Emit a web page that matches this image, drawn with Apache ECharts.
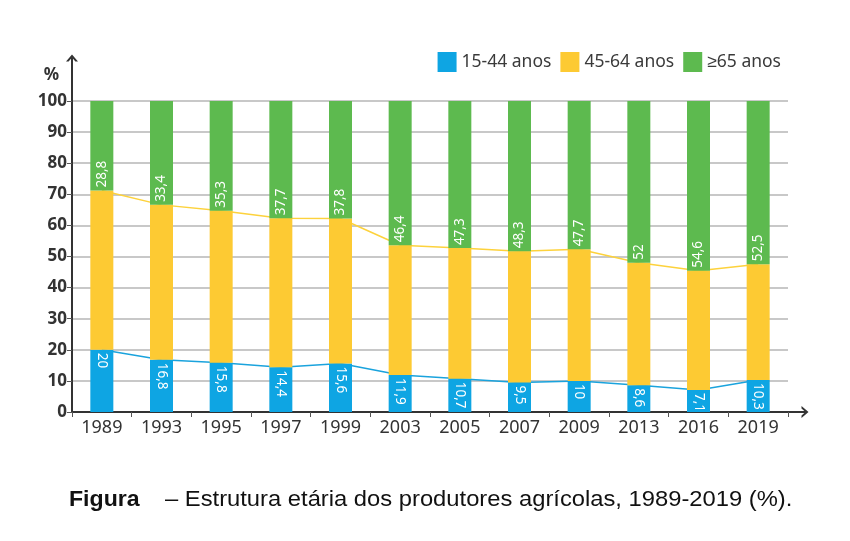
<!DOCTYPE html>
<html>
<head>
<meta charset="utf-8">
<script src="https://cdn.jsdelivr.net/npm/echarts@6/dist/echarts.min.js"></script>
<style>
  html, body { margin: 0; padding: 0; background: #fff; }
  #chart { width: 850px; height: 541px; }
</style>
</head>
<body>
<div id="chart"></div>
<script>
// anos do censo
const anos = ['1989', '1993', '1995', '1997', '1999', '2003', '2005', '2007', '2009', '2013', '2016', '2019'];
// faixas etárias (%)
const jovens = [20, 16.8, 15.8, 14.4, 15.6, 11.9, 10.7, 9.5, 10, 8.6, 7.1, 10.3];
const adultos = [51.2, 49.8, 48.9, 47.9, 46.6, 41.7, 42.0, 42.2, 42.3, 39.4, 38.3, 37.2];
const idosos = [28.8, 33.4, 35.3, 37.7, 37.8, 46.4, 47.3, 48.3, 47.7, 52, 54.6, 52.5];
const nomes = ['15-44 anos', '45-64 anos', '≥65 anos'];

const azul = '#0ea5e3', amarelo = '#fdca33', verde = '#5dba4f';
const fonte = "'Noto Sans', sans-serif";

// seta aberta (chevron) para a ponta dos eixos
const seta = 'path://M0,7 L6,0 L12,7 L9.4,7 L6,3 L2.6,7 Z';

const virgula = p => String(p.value).replace('.', ',');

const myChart = echarts.init(document.getElementById('chart'));
myChart.setOption({
  backgroundColor: '#fff',
  animation: false,
  legend: {
    data: nomes,
    right: 64,
    top: 47,
    itemWidth: 19,
    itemHeight: 20,
    itemGap: 9,
    icon: 'rect',
    textStyle: { fontFamily: fonte, fontSize: 17.5, color: '#3a3a3a' }
  },
  grid: [
    { left: 72, right: 62, top: 101, bottom: 129 },
    // só para as linhas dos eixos com seta
    { left: 72, right: 45, top: 58, bottom: 129 }
  ],
  xAxis: [
    {
      type: 'category',
      gridIndex: 0,
      data: anos,
      axisLine: { show: false },
      axisTick: { show: true, length: 5, lineStyle: { color: '#555' } },
      axisLabel: { fontFamily: fonte, fontSize: 18, color: '#333', margin: 7 }
    },
    {
      type: 'value', gridIndex: 1, min: 0, max: 1,
      axisLine: { show: true, lineStyle: { color: '#333', width: 2 }, symbol: ['none', seta], symbolSize: [12, 7] },
      axisTick: { show: false }, axisLabel: { show: false }, splitLine: { show: false }
    }
  ],
  yAxis: [
    {
      type: 'value',
      gridIndex: 0,
      min: 0, max: 100, interval: 10,
      name: '%',
      nameLocation: 'end',
      nameGap: 17,
      nameTextStyle: { fontFamily: fonte, fontSize: 17, fontWeight: 'bold', color: '#333', align: 'right', padding: [0, 13, 0, 0] },
      axisLine: { show: false },
      axisTick: { show: true, length: 5, lineStyle: { color: '#555' } },
      axisLabel: { fontFamily: fonte, fontSize: 17, fontWeight: 'bold', color: '#333', margin: 5 },
      splitLine: { lineStyle: { color: '#c8c8c8', width: 2 } }
    },
    {
      type: 'value', gridIndex: 1, min: 0, max: 1,
      axisLine: { show: true, lineStyle: { color: '#333', width: 2 }, symbol: ['none', seta], symbolSize: [12, 7] },
      axisTick: { show: false }, axisLabel: { show: false }, splitLine: { show: false }
    }
  ],
  series: [
    {
      name: 'linha jovens', type: 'line', stack: 'linha', data: jovens,
      symbol: 'none', z: 1, lineStyle: { color: '#1aa3dd', width: 1.5 }, silent: true
    },
    {
      name: 'linha adultos', type: 'line', stack: 'linha', data: adultos,
      symbol: 'none', z: 1, lineStyle: { color: '#fdd23c', width: 1.5 }, silent: true
    },
    {
      name: nomes[0], type: 'bar', stack: 'total', data: jovens, barWidth: 23,
      itemStyle: { color: azul },
      label: {
        show: true, position: 'insideTop', distance: 3, rotate: -90,
        align: 'left', verticalAlign: 'middle',
        fontFamily: fonte, fontSize: 13.5, color: '#fff', formatter: virgula
      }
    },
    {
      name: nomes[1], type: 'bar', stack: 'total', data: adultos, barWidth: 23,
      itemStyle: { color: amarelo }
    },
    {
      name: nomes[2], type: 'bar', stack: 'total', data: idosos, barWidth: 23,
      itemStyle: { color: verde },
      label: {
        show: true, position: 'insideBottom', distance: 3, rotate: 90,
        align: 'left', verticalAlign: 'middle',
        fontFamily: fonte, fontSize: 13.5, color: '#fff', formatter: virgula
      }
    }
  ],
  graphic: [
    {
      type: 'text', left: 69, top: 489, scaleX: 1.05,
      style: { text: 'Figura', font: "bold 22px 'Liberation Sans', sans-serif", fill: '#111' }
    },
    {
      type: 'text', left: 165, top: 489, scaleX: 1.08,
      style: { text: '– Estrutura etária dos produtores agrícolas, 1989-2019 (%).', font: "22px 'Liberation Sans', sans-serif", fill: '#111' }
    }
  ]
});
</script>
</body>
</html>
